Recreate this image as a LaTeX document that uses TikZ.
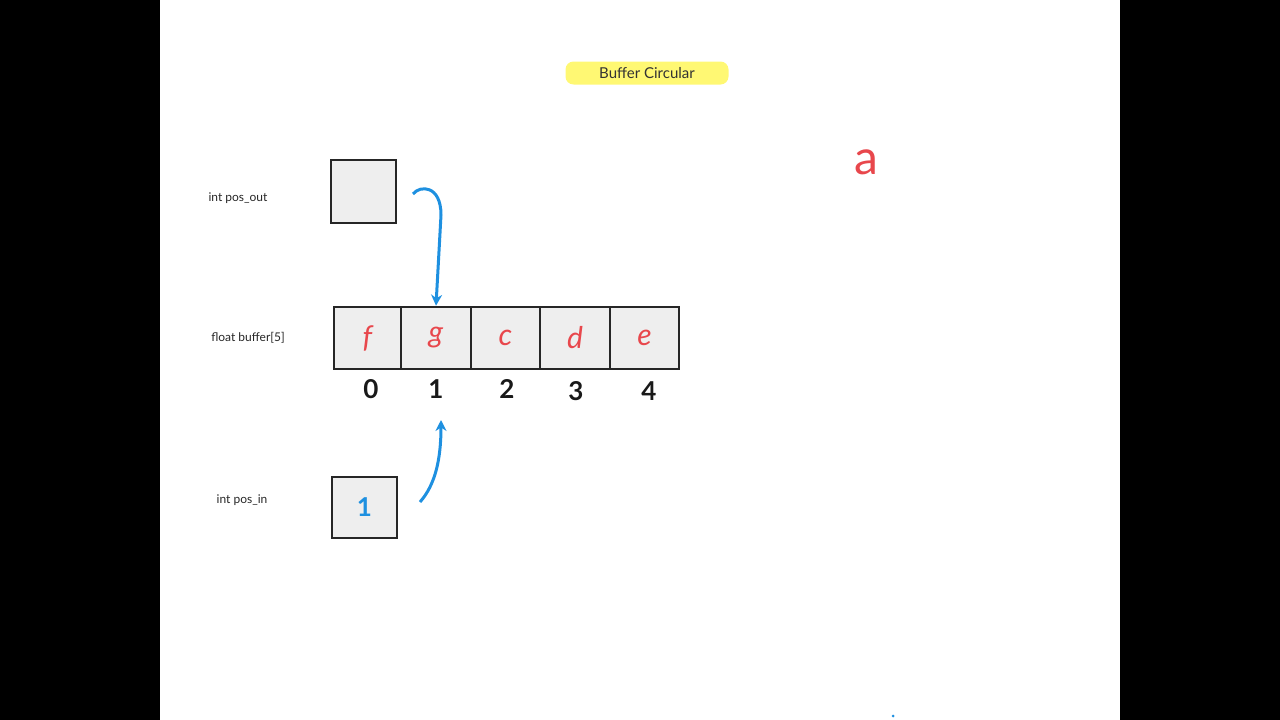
\documentclass[tikz,border=0pt]{standalone}
\usepackage{fontspec}
\setmainfont{Lato}
\usetikzlibrary{arrows.meta}
\definecolor{hred}{HTML}{E8474C}
\definecolor{hblue}{HTML}{1E90E0}
\definecolor{cellgray}{HTML}{EEEEEE}
\begin{document}
\begin{tikzpicture}[x=1pt,y=-1pt,
  lbl/.style={font=\fontsize{12}{14}\selectfont, text=black!85},
  cell/.style={draw=black!85, line width=2.6pt, fill=cellgray, minimum width=67pt, minimum height=62pt, inner sep=0pt},
  letter/.style={text=hred, font=\fontsize{30}{32}\selectfont\itshape},
  idx/.style={text=black!90, font=\fontsize{26}{28}\selectfont\bfseries},
  arr/.style={draw=hblue, line width=3pt, -{Stealth[length=11pt,width=11pt]}}]
\useasboundingbox (0,0) rectangle (1280,720);
\fill[black] (0,0) rectangle (160,720);
\fill[black] (1120,0) rectangle (1280,720);
\node[fill=yellow!55, rounded corners=8pt, minimum width=163pt, minimum height=23pt, font=\fontsize{15}{17}\selectfont, text=black!80] (title) at (647,73) {Buffer Circular};
\node[lbl] (lout) at (238,198) {int pos\_out};
\node[cell, minimum width=65pt, minimum height=63pt] (out) at (363.5,191.5) {};
\node[lbl] (lbuf) at (248,338) {float buffer[5]};
\node[cell] (c0) at (367.5,338) {};
\node[cell, minimum width=70pt] (c1) at (436,338) {};
\node[cell, minimum width=69pt] (c2) at (505.5,338) {};
\node[cell, minimum width=70pt] (c3) at (575,338) {};
\node[cell, minimum width=69pt] (c4) at (644.5,338) {};
\node[letter] at (c0) {f};
\node[letter] at (c1) {g};
\node[letter] at (c2) {c};
\node[letter] at (c3) {d};
\node[letter] at (c4) {e};
\node[idx] (i0) at (371,389) {0};
\node[idx] (i1) at (436,389) {1};
\node[idx] (i2) at (507,389) {2};
\node[idx] (i3) at (576,391) {3};
\node[idx] (i4) at (649,391) {4};
\node[lbl] (lin) at (242,500) {int pos\_in};
\node[cell, minimum width=65pt, minimum height=61pt] (in) at (364.5,507.5) {};
\node[text=hblue, font=\fontsize{26}{28}\selectfont\bfseries] at (in) {1};
\coordinate (s1) at (413,194);
\coordinate (s2) at (420,502);
\draw[arr] (s1) .. controls (420,185) and (441,185) .. (441,215) -- (c1.north);
\draw[arr] (s2) .. controls (435,485) and (441,460) .. (441,420);
\node[text=hred, font=\fontsize{48}{50}\selectfont] (a) at (866,162) {a};
\fill[hblue] (893,716) circle (1.5pt);
\end{tikzpicture}
\end{document}
